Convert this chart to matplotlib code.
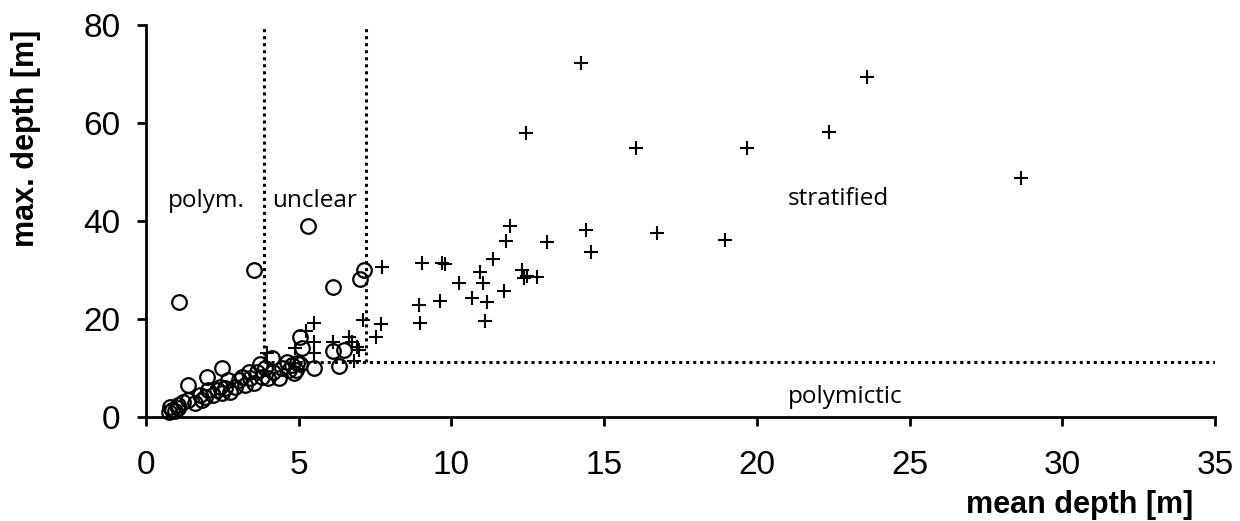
import matplotlib
matplotlib.use("Agg")
import matplotlib.pyplot as plt

# polymictic / unclear lakes (circles)
mean_circ = [0.75, 0.85, 0.95, 0.8, 1.05, 1.06, 1.22, 1.39, 1.61, 1.83, 1.77, 1.93, 2.04, 2.2,
             2.32, 2.43, 2.48, 2.59, 2.7, 2.75, 2.92, 3.03, 3.14, 3.25, 3.36, 3.41, 3.52, 3.63,
             3.74, 3.79, 3.9, 4.01, 4.12, 4.17, 4.34, 4.45, 4.61, 4.67, 4.78, 4.83,
             1.39, 1.99, 2.48, 1.08, 3.52, 5.32, 7.13, 7.02, 6.12, 5.05, 5.1,
             5.05, 5.51, 6.12, 6.49, 6.31, 4.9, 4.95]
max_circ = [1.0, 1.5, 1.2, 2.0, 1.8, 2.4, 3.1, 3.5, 2.8, 3.5, 4.5, 4.1, 5.5, 4.5,
            5.5, 6.2, 4.8, 5.9, 7.6, 5.2, 6.2, 7.6, 8.1, 6.5, 9.2, 7.9, 6.9, 9.2,
            10.9, 8.2, 9.9, 7.9, 12.0, 9.2, 7.9, 9.9, 11.3, 9.6, 10.6, 8.9,
            6.5, 8.1, 10.1, 23.5, 30.0, 39.0, 30.1, 28.1, 26.5, 16.3, 14.0,
            10.8, 9.9, 13.5, 13.7, 10.4, 9.5, 11.0]

# stratified lakes (plus)
mean_plus = [14.23, 23.6, 12.43, 16.03, 19.67, 22.35, 28.66,
             11.93, 11.8, 13.14, 14.39, 14.56, 16.72, 18.95,
             9.04, 9.69, 9.8, 11.36, 10.93, 10.24, 11.03, 12.32, 12.37, 12.48, 12.81,
             11.72, 8.95, 9.62, 10.68, 11.17, 8.96, 11.11,
             5.51, 5.25, 4.89, 5.51, 5.51, 6.12, 6.64, 6.74, 6.9, 6.96, 6.8,
             7.12, 7.7, 7.52, 7.73, 3.96]
max_plus = [72.2, 69.4, 57.9, 55.0, 55.0, 58.2, 48.7,
            39.0, 36.0, 35.8, 38.2, 33.7, 37.6, 36.1,
            31.4, 31.4, 31.2, 32.2, 29.5, 27.4, 27.4, 30.0, 28.3, 28.8, 28.5,
            25.8, 22.9, 23.7, 24.3, 23.4, 19.1, 19.5,
            19.2, 17.6, 14.0, 15.4, 13.1, 15.4, 16.3, 15.4, 14.3, 13.7, 11.4,
            19.7, 18.9, 16.4, 30.7, 13.0]

# class boundaries
mean_lim_1 = 3.87
mean_lim_2 = 7.2
max_lim = 11.2

xticks = [0, 5, 10, 15, 20, 25, 30, 35]
yticks = [0, 20, 40, 60, 80]

fig = plt.figure(figsize=(12.4, 5.21), dpi=100)
ax = fig.add_axes([146/1240, 1 - 417/521, (1215-146)/1240, (417-25)/521])

dot = dict(color='black', lw=2.2, linestyle=(0, (1, 1.3)), dash_capstyle='butt', zorder=1)
ax.plot([mean_lim_1, mean_lim_1], [max_lim, 80], **dot)
ax.plot([mean_lim_2, mean_lim_2], [max_lim, 80], **dot)
ax.plot([mean_lim_1, 35], [max_lim, max_lim], **dot)

ax.plot(mean_circ, max_circ, linestyle='none', marker='o', markersize=10.5,
        markerfacecolor='none', markeredgecolor='black', markeredgewidth=1.6, zorder=3, clip_on=False)
ax.plot(mean_plus, max_plus, linestyle='none', marker='+', markersize=10.5,
        markeredgecolor='black', markeredgewidth=1.5, zorder=3, clip_on=False)

ax.set_xlim(0, 35)
ax.set_ylim(0, 80)
ax.set_xticks(xticks)
ax.set_yticks(yticks)
for s in ['top', 'right']:
    ax.spines[s].set_visible(False)
for s in ['left', 'bottom']:
    ax.spines[s].set_linewidth(2)
ax.tick_params(axis='both', direction='out', length=6.5, width=2, labelsize=24)
ax.tick_params(axis='y', pad=12)
ax.tick_params(axis='x', pad=17)
for lab in ax.get_xticklabels() + ax.get_yticklabels():
    lab.set_fontfamily('Liberation Sans')

annot = dict(fontsize=17.5, family='Open Sans', va='center', ha='left')
ax.text(0.72, 44, 'polym.', **annot)
ax.text(4.13, 44, 'unclear', **annot)
ax.text(21.0, 44.5, 'stratified', **annot)
ax.text(21.0, 4.1, 'polymictic', **annot)

fig.text(1193/1240, 1 - 513/521, 'mean depth [m]', ha='right', va='baseline',
         fontsize=22, fontweight='bold', family='Liberation Sans')
fig.text(26/1240, 1 - 138/521, 'max. depth [m]', ha='center', va='center', rotation=90,
         fontsize=22, fontweight='bold', family='Liberation Sans')

fig.savefig('out.png', dpi=100)
